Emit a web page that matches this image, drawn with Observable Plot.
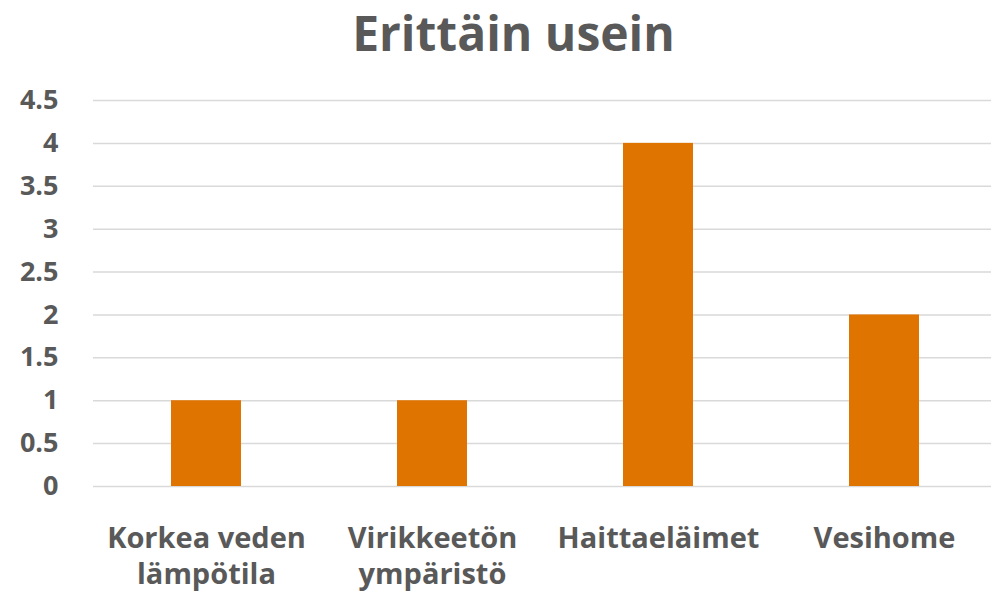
<!DOCTYPE html>
<html>
<head>
<meta charset="utf-8">
<script src="https://cdn.jsdelivr.net/npm/d3@7"></script>
<script src="https://cdn.jsdelivr.net/npm/@observablehq/plot@0.6"></script>
<style>
  html, body { margin: 0; padding: 0; background: #fff; }
  #title { font-family: "Open Sans", sans-serif; font-weight: 700; font-size: 48px; color: #595959;
           text-align: center; height: 68px; line-height: 66px; padding-left: 36px; box-sizing: border-box; }
  #chart svg { display: block; }
</style>
</head>
<body>
<div id="title">Erittäin usein</div>
<div id="chart"></div>
<script>
const categories = ["Korkea veden\nlämpötila", "Virikkeetön\nympäristö", "Haittaeläimet", "Vesihome"];
const values = [1, 1, 4, 2];
const yTicks = [0, 0.5, 1, 1.5, 2, 2.5, 3, 3.5, 4, 4.5];

const data = categories.map((c, i) => ({category: c, value: values[i]}));

const chart = Plot.plot({
  width: 991,
  height: 529,
  marginLeft: 93,
  marginRight: 0,
  marginTop: 32,
  marginBottom: 111,
  style: {fontFamily: "'Open Sans', sans-serif", fontWeight: 700, color: "#595959", background: "#fff"},
  x: {domain: categories, range: [93, 998], paddingInner: 0.69, paddingOuter: 0.345, label: null},
  y: {domain: [0, 4.5], label: null},
  marks: [
    Plot.ruleY(yTicks, {stroke: "#d9d9d9", strokeWidth: 1.5}),
    Plot.barY(data, {x: "category", y: "value", fill: "#E07400"}),
    Plot.axisY({ticks: yTicks, tickSize: 0, tickPadding: 35, fontSize: 27, tickFormat: d => String(d), label: null}),
    Plot.axisX({tickSize: 0, tickPadding: 36, fontSize: 29, lineHeight: 1.25, label: null})
  ]
});
document.getElementById("chart").appendChild(chart);
</script>
</body>
</html>
